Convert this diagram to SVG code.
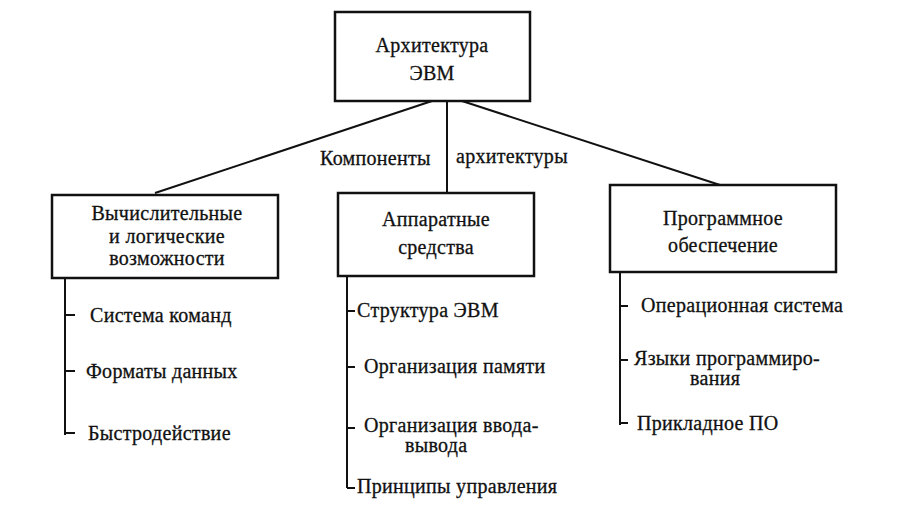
<svg xmlns="http://www.w3.org/2000/svg" width="911" height="518" viewBox="0 0 911 518">
<style>
.b{fill:#fff;stroke:#111;stroke-width:2.5}
.l{stroke:#111;stroke-width:2;fill:none}
text{font-family:"Liberation Serif",serif;font-size:20px;letter-spacing:0.3px;fill:#111;stroke:#111;stroke-width:0.3}
.c{text-anchor:middle}
</style>
<rect width="911" height="518" fill="#fff"/>
<g id="connectors">
<path class="l" d="M432 101 L155 193 M447 101 L447 193 M462 101 L720 185"/>
<path class="l" d="M65 278 V435 M65 315 H75 M65 371 H75 M65 433 H75"/>
<path class="l" d="M347 276 V488 M347 311 H355 M347 367 H355 M347 428 H355 M347 488 H355"/>
<path class="l" d="M620 272 V425 M620 306 H628 M620 360 H628 M620 423 H628"/>
</g>
<text x="320" y="165">Компоненты</text>
<text x="456" y="163">архитектуры</text>
<g id="top"><rect class="b" x="335" y="12" width="195" height="89"/>
<text class="c" x="432" y="52">Архитектура</text><text class="c" x="432" y="80">ЭВМ</text></g>
<g id="left"><rect class="b" x="52" y="195" width="226" height="83"/>
<text class="c" x="167" y="220">Вычислительные</text><text class="c" x="167" y="243">и логические</text><text class="c" x="167" y="265">возможности</text></g>
<g id="center"><rect class="b" x="338" y="193" width="196" height="83"/>
<text class="c" x="436" y="226">Аппаратные</text><text class="c" x="436" y="254">средства</text></g>
<g id="right"><rect class="b" x="610" y="185" width="226" height="87"/>
<text class="c" x="723" y="225">Программное</text><text class="c" x="723" y="252">обеспечение</text></g>
<g id="leftitems"><text x="90" y="322">Система команд</text><text x="86" y="378">Форматы данных</text><text x="88" y="440">Быстродействие</text></g>
<g id="centeritems"><text x="357" y="317">Структура ЭВМ</text><text x="364" y="373">Организация памяти</text><text x="364" y="432">Организация ввода-</text><text x="405" y="452">вывода</text><text x="357" y="493">Принципы управления</text></g>
<g id="rightitems"><text x="641" y="312">Операционная система</text><text x="634" y="365">Языки программиро-</text><text x="690" y="385">вания</text><text x="637" y="430">Прикладное ПО</text></g>
</svg>
